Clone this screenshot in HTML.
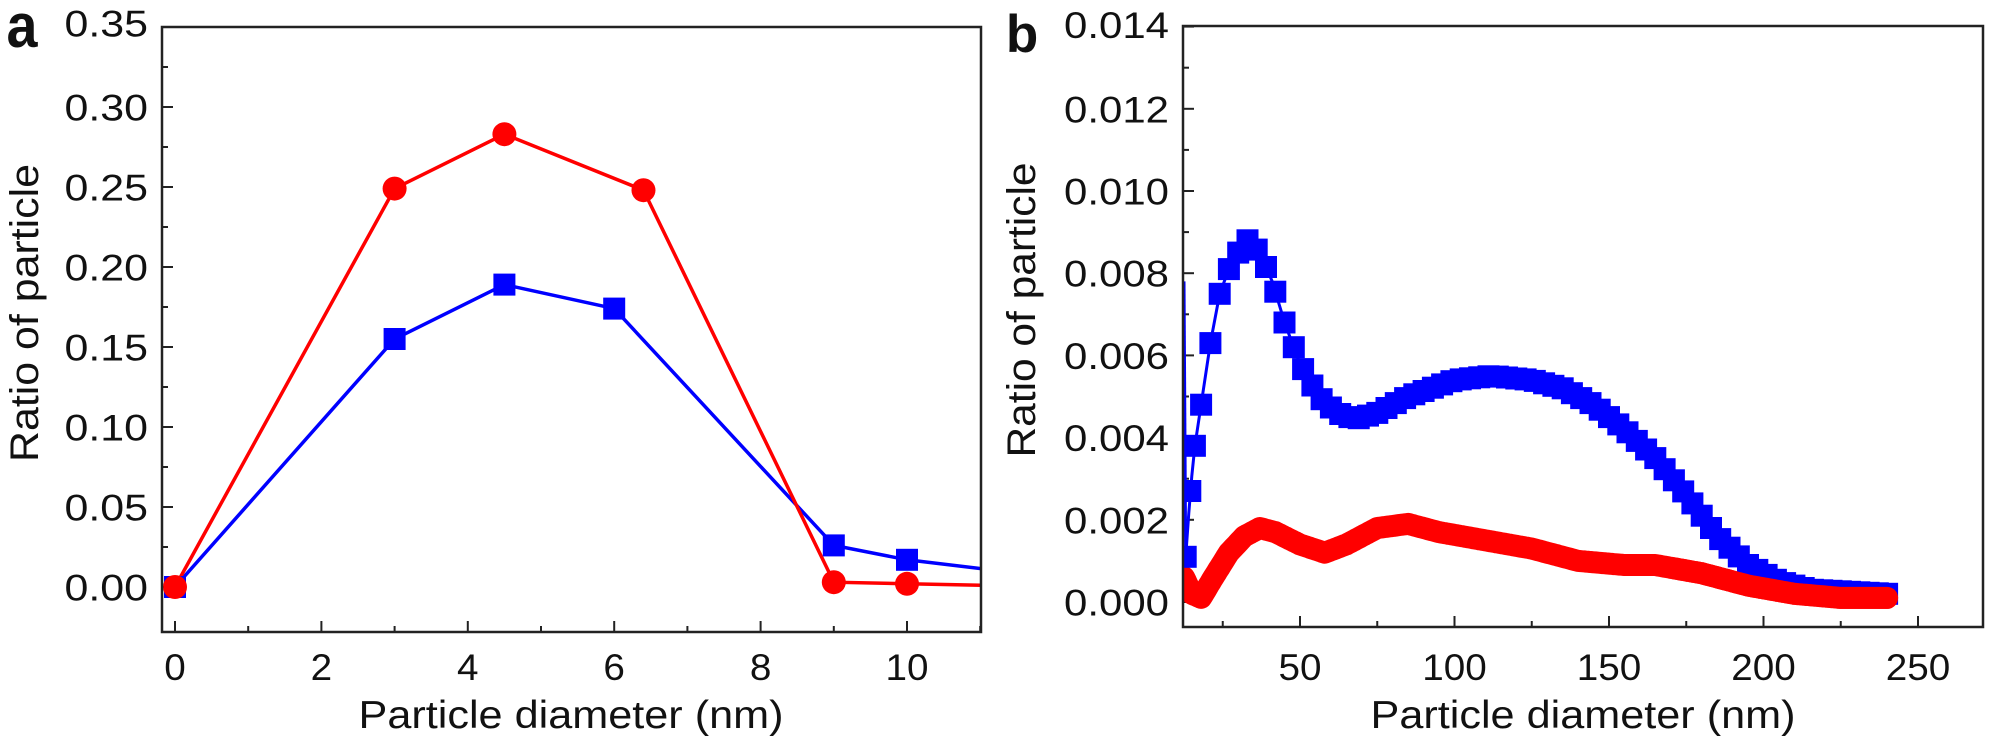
<!DOCTYPE html>
<html><head><meta charset="utf-8"><style>
html,body{margin:0;padding:0;background:#fff;width:2001px;height:747px;overflow:hidden}
svg text{font-family:"Liberation Sans",Arial,sans-serif;fill:#111}
</style></head><body>
<svg id="s" width="2001" height="747" viewBox="0 0 2001 747" xmlns="http://www.w3.org/2000/svg">
<text x="22" y="47" font-size="62" font-weight="bold" text-anchor="middle" textLength="31" lengthAdjust="spacingAndGlyphs">a</text>
<text x="1022" y="52" font-size="53" font-weight="bold" text-anchor="middle">b</text>
<text transform="translate(38,313) rotate(-90)" font-size="40" text-anchor="middle" textLength="298" lengthAdjust="spacingAndGlyphs">Ratio of particle</text>
<text transform="translate(1035,310) rotate(-90)" font-size="40" text-anchor="middle" textLength="295" lengthAdjust="spacingAndGlyphs">Ratio of particle</text>
<text x="571" y="728" font-size="39" text-anchor="middle" textLength="425" lengthAdjust="spacingAndGlyphs">Particle diameter (nm)</text>
<text x="1583" y="728" font-size="39" text-anchor="middle" textLength="425" lengthAdjust="spacingAndGlyphs">Particle diameter (nm)</text>
<g id="g"></g>
</svg>
<script>
var g=document.getElementById('g'),h='';
function L(x1,y1,x2,y2,c,w){h+='<line x1="'+x1+'" y1="'+y1+'" x2="'+x2+'" y2="'+y2+'" stroke="'+c+'" stroke-width="'+w+'"/>';}
function T(x,y,t,a){t=String(t);var nd=t.replace(/[^0-9]/g,'').length,np=t.length-nd;var w=nd*21.5+np*19;
h+='<text x="'+x+'" y="'+y+'" font-size="37" text-anchor="'+a+'" textLength="'+w+'" lengthAdjust="spacingAndGlyphs">'+t+'</text>';}
// Panel a
var aL=162,aR=981,aT=27,aB=632;
function ax(v){return 175+v*73.2}
function ay(v){return 587-v*1600}
for(var i=0;i<=14;i++){var v=i*0.025,y=ay(v);L(aL,y,aL+(i%2?6:11),y,'#222',2);if(i%2==0)T(148,(i==14?y-4:y)+13.5,v.toFixed(2),'end');}
for(var i=0;i<=11;i++){var x=ax(i);L(x,aB,x,aB-(i%2?6:11),'#222',2);if(i%2==0)T(x,680,i,'middle');}
var bl=[[0,0],[3,0.155],[4.5,0.189],[6,0.174],[9,0.026],[10,0.017],[11.1,0.011]];
var rd=[[0,0],[3,0.249],[4.5,0.283],[6.4,0.248],[9,0.003],[10,0.002],[11.1,0.001]];
function pl(d,fx,fy,c,w){h+='<polyline fill="none" stroke="'+c+'" stroke-width="'+w+'" points="'+d.map(function(p){return fx(p[0]).toFixed(1)+','+fy(p[1]).toFixed(1)}).join(' ')+'"/>';}
h+='<clipPath id="ca"><rect x="'+aL+'" y="'+aT+'" width="'+(aR-aL)+'" height="'+(aB-aT)+'"/></clipPath><g clip-path="url(#ca)">';
pl(bl,ax,ay,'#0000ff',3.5);pl(rd,ax,ay,'#ff0000',3.5);
bl.slice(0,6).forEach(function(p){h+='<rect x="'+(ax(p[0])-11)+'" y="'+(ay(p[1])-11)+'" width="22" height="22" fill="#0000ff"/>';});
rd.slice(0,6).forEach(function(p){h+='<circle cx="'+ax(p[0])+'" cy="'+ay(p[1])+'" r="12" fill="#ff0000"/>';});
h+='</g>';
h+='<rect x="'+aL+'" y="'+aT+'" width="'+(aR-aL)+'" height="'+(aB-aT)+'" fill="none" stroke="#222" stroke-width="2.5"/>';
// Panel b
var bL=1183,bR=1983,bT=26,bB=627;
function bx(v){return 1300+(v-50)*3.09}
function by(v){return 602-v*41100}
for(var i=0;i<=14;i++){var v=i*0.001,y=by(v);L(bL,y,bL+(i%2?6:11),y,'#222',2);if(i%2==0)T(1169,(i==14?y-2:y)+13.5,v.toFixed(3),'end');}
for(var i=1;i<=10;i++){var v=i*25,x=bx(v);L(x,bB,x,bB-(i%2?6:11),'#222',2);if(i%2==0)T(x,680,v,'middle');}
var B=[[13,0.0011],[14.5,0.0027],[16,0.0038],[18,0.0048],[21,0.0063],[24,0.0075],[28,0.0083],[33,0.0088],[37,0.0085],[41,0.0078],[45,0.0068],[50,0.0058],[56,0.0050],[62,0.0046],[68,0.00445],[75,0.0046],[85,0.0050],[100,0.0054],[112,0.0055],[125,0.0054],[135,0.0052],[145,0.0048],[155,0.0042],[165,0.0035],[175,0.0026],[185,0.0016],[195,0.0009],[205,0.0005],[215,0.0003],[240,0.0002]];
var R=[[12.5,0.0006],[15,0.0002],[18,0.0001],[22,0.0006],[27,0.0012],[32,0.0016],[37,0.0018],[42,0.0017],[50,0.0014],[58,0.0012],[65,0.0014],[75,0.0018],[85,0.0019],[95,0.0017],[110,0.0015],[125,0.0013],[140,0.0010],[155,0.0009],[165,0.0009],[180,0.0007],[195,0.0004],[210,0.0002],[225,0.0001],[240,0.0001]];
function interp(d,x){for(var i=0;i<d.length-1;i++){if(x<=d[i+1][0]){var t=(x-d[i][0])/(d[i+1][0]-d[i][0]);return d[i][1]+t*(d[i+1][1]-d[i][1]);}}return d[d.length-1][1];}
h+='<clipPath id="cb"><rect x="'+bL+'" y="'+bT+'" width="'+(bR-bL)+'" height="'+(bB-bT)+'"/></clipPath><g clip-path="url(#cb)">';
L(bL+1,by(0.0078),bx(13),by(0.0011),'#0000ff',3);
var bp=[];for(var x=13;x<=240;x+=1)bp.push([x,interp(B,x)]);pl(bp,bx,by,'#0000ff',3);
var rp=[];for(var x=12.5;x<=240;x+=0.5)rp.push([x,interp(R,x)]);
var rpts=function(f){return rp.filter(f).map(function(p){return bx(p[0]).toFixed(1)+','+by(p[1]).toFixed(1)}).join(' ')};
h+='<polyline fill="none" stroke="#ff0000" stroke-width="22" stroke-linecap="round" stroke-linejoin="round" points="'+rpts(function(){return true})+'"/>';
var sq=[13,14.5,16,18,21,24,27,30,33,36,39,42,45,48,51];for(var x=54;x<=240;x+=3)sq.push(x);
sq.forEach(function(x){h+='<rect x="'+(bx(x)-11).toFixed(1)+'" y="'+(by(interp(B,x))-11).toFixed(1)+'" width="22" height="22" fill="#0000ff"/>';});
h+='<polyline fill="none" stroke="#ff0000" stroke-width="22" stroke-linecap="round" stroke-linejoin="round" points="'+rpts(function(p){return p[0]>170})+'"/>';
h+='</g>';
h+='<rect x="'+bL+'" y="'+bT+'" width="'+(bR-bL)+'" height="'+(bB-bT)+'" fill="none" stroke="#222" stroke-width="2.5"/>';
g.innerHTML=h;
</script>
</body></html>
